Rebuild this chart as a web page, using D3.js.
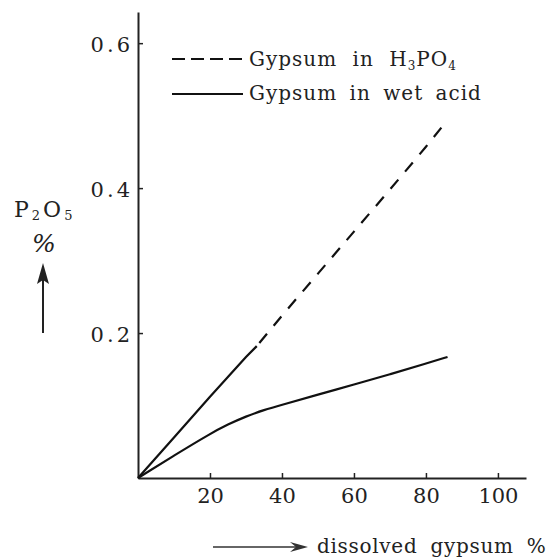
<!DOCTYPE html>
<html>
<head>
<meta charset="utf-8">
<script src="https://cdn.jsdelivr.net/npm/d3@7"></script>
<style>
  body { margin: 0; background: #fff; }
  svg text { font-family: "DejaVu Serif", "Liberation Serif", serif; fill: #222; }
</style>
</head>
<body>
<div id="chart"></div>
<script>
// Values
var h3po4X = [0, 10, 20, 30, 33, 40, 50, 60, 70, 80, 86];
var h3po4Y = [0, 0.056, 0.112, 0.167, 0.182, 0.224, 0.282, 0.340, 0.398, 0.457, 0.494];
var h3po4SolidUntil = 33;   // the curve is drawn solid up to here, dashed after

var wetX = [0, 10, 20, 25, 30, 35, 40, 50, 60, 70, 80, 86];
var wetY = [0, 0.031, 0.061, 0.074, 0.085, 0.094, 0.101, 0.115, 0.129, 0.143, 0.158, 0.167];

var xTicks = [20, 40, 60, 80, 100];
var yTicks = [0.2, 0.4, 0.6];

var legendLabels = ["Gypsum in H", "Gypsum in wet acid"];

var serif = "'DejaVu Serif', 'Liberation Serif', serif";

// Canvas
var width = 552, height = 559;
var svg = d3.select("#chart")
  .append("svg")
    .attr("width", width)
    .attr("height", height)
    .style("font-family", serif);

// Scales
var x = d3.scaleLinear().domain([0, 107.8]).range([138, 526]);
var y = d3.scaleLinear().domain([0, 0.643]).range([478, 12]);

var h3po4 = h3po4X.map(function(d, i) { return {x: d, y: h3po4Y[i]}; });
var wet = wetX.map(function(d, i) { return {x: d, y: wetY[i]}; });

var line = d3.line()
    .x(function(d) { return x(d.x); })
    .y(function(d) { return y(d.y); });

// X axis (ticks pointing inward)
var xAxis = svg.append("g")
    .attr("transform", "translate(0," + y(0) + ")")
    .call(d3.axisBottom(x).tickValues(xTicks).tickSize(-5).tickSizeOuter(0).tickPadding(0));
xAxis.attr("font-family", serif);
xAxis.select(".domain").attr("stroke", "#222").attr("stroke-width", 2);
xAxis.selectAll(".tick line").attr("stroke", "#222").attr("stroke-width", 1.5);
xAxis.selectAll(".tick text")
    .attr("y", 25)
    .attr("dy", 0)
    .style("font-size", "21px")
    .attr("fill", "#222");

// Y axis
var yAxis = svg.append("g")
    .attr("transform", "translate(" + x(0) + ",0)")
    .call(d3.axisLeft(y).tickValues(yTicks).tickSize(-5).tickSizeOuter(0)
      .tickFormat(d3.format(".1f")));
yAxis.attr("font-family", serif);
yAxis.select(".domain").attr("stroke", "#222").attr("stroke-width", 2);
yAxis.selectAll(".tick line").attr("stroke", "#222").attr("stroke-width", 1.5);
yAxis.selectAll(".tick text")
    .attr("x", -5)
    .attr("dy", "0.38em")
    .style("font-size", "21px")
    .style("letter-spacing", "3px")
    .attr("fill", "#222");

// Curves
svg.append("path")
    .datum(h3po4.filter(function(d) { return d.x <= h3po4SolidUntil; }))
    .attr("fill", "none")
    .attr("stroke", "#111")
    .attr("stroke-width", 2.2)
    .attr("d", line.curve(d3.curveLinear));

svg.append("path")
    .datum(h3po4.filter(function(d) { return d.x >= h3po4SolidUntil; }))
    .attr("fill", "none")
    .attr("stroke", "#111")
    .attr("stroke-width", 2.2)
    .attr("stroke-dasharray", "0,4,12,6.5")
    .attr("d", line);

svg.append("path")
    .datum(wet)
    .attr("fill", "none")
    .attr("stroke", "#111")
    .attr("stroke-width", 2.2)
    .attr("d", line.curve(d3.curveBasis));

// Legend
svg.append("line")
    .attr("x1", 172).attr("x2", 248)
    .attr("y1", 59).attr("y2", 59)
    .attr("stroke", "#111")
    .attr("stroke-width", 2)
    .attr("stroke-dasharray", "13,6");
svg.append("line")
    .attr("x1", 172).attr("x2", 243)
    .attr("y1", 94).attr("y2", 94)
    .attr("stroke", "#111")
    .attr("stroke-width", 2);

var leg1 = svg.append("text")
    .attr("x", 249).attr("y", 66)
    .style("font-size", "20px")
    .style("letter-spacing", "1px")
    .style("word-spacing", "8px")
    .text(legendLabels[0]);
leg1.append("tspan").attr("dy", 4).style("font-size", "12px").text("3");
leg1.append("tspan").attr("dy", -4).text("PO");
leg1.append("tspan").attr("dy", 4).style("font-size", "12px").text("4");

svg.append("text")
    .attr("x", 249).attr("y", 100)
    .style("font-size", "20px")
    .style("letter-spacing", "1px")
    .style("word-spacing", "5px")
    .text(legendLabels[1]);

// Y axis title with arrow
var ylab = svg.append("text")
    .attr("x", 14).attr("y", 217)
    .style("font-size", "22px")
    .style("letter-spacing", "3px")
    .text("P");
ylab.append("tspan").attr("dy", 3).style("font-size", "13px").text("2");
ylab.append("tspan").attr("dy", -3).text("O");
ylab.append("tspan").attr("dy", 3).style("font-size", "13px").text("5");

svg.append("text")
    .attr("x", 44).attr("y", 252)
    .attr("text-anchor", "middle")
    .style("font-size", "25px")
    .style("font-style", "italic")
    .text("%");

svg.append("line")
    .attr("x1", 43).attr("x2", 43)
    .attr("y1", 333).attr("y2", 278)
    .attr("stroke", "#222")
    .attr("stroke-width", 2);
svg.append("path")
    .attr("d", "M43,263 L37,284 L43,280 L49,284 Z")
    .attr("fill", "#222");

// X axis title with arrow
svg.append("line")
    .attr("x1", 213).attr("x2", 300)
    .attr("y1", 547).attr("y2", 547)
    .attr("stroke", "#333")
    .attr("stroke-width", 1.3);
svg.append("path")
    .attr("d", "M308,547 L290,542 L296,547 L290,552 Z")
    .attr("fill", "#333");

svg.append("text")
    .attr("x", 317).attr("y", 553)
    .style("font-size", "20px")
    .style("letter-spacing", "0.7px")
    .style("word-spacing", "6px")
    .text("dissolved gypsum %");
</script>
</body>
</html>
